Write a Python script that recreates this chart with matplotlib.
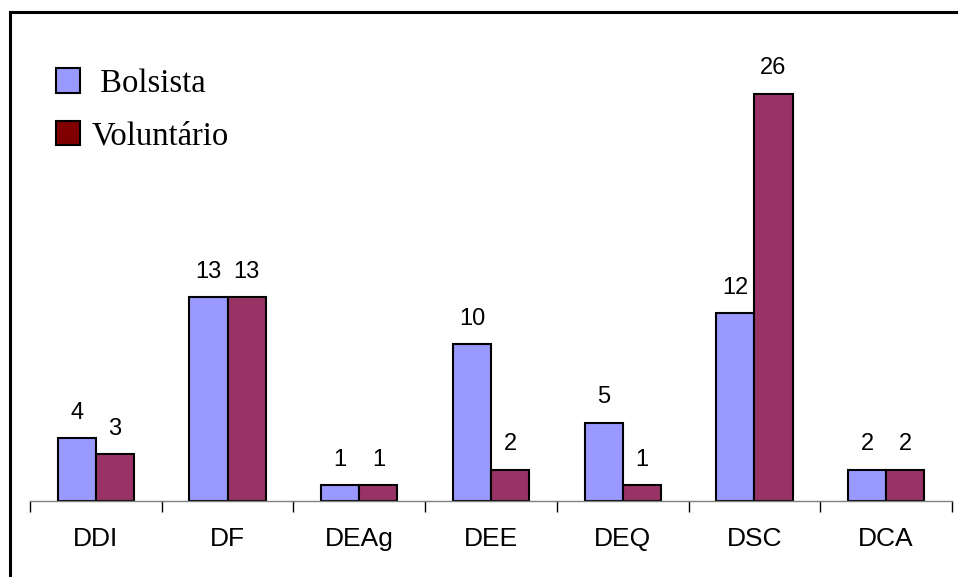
import numpy as np
import matplotlib
matplotlib.use("Agg")
import matplotlib.pyplot as plt
from matplotlib.patches import Patch
from matplotlib.lines import Line2D

# Data
departments = ["DDI", "DF", "DEAg", "DEE", "DEQ", "DSC", "DCA"]
bolsista = [4, 13, 1, 10, 5, 12, 2]
voluntario = [3, 13, 1, 2, 1, 26, 2]
series_names = ["Bolsista", "Voluntário"]

blue = "#9999FF"
plum = "#993366"
legend_red = "#800000"

plt.rcParams['font.family'] = ['Liberation Sans', 'DejaVu Sans']

W, H = 958, 577
fig = plt.figure(figsize=(W / 100, H / 100), dpi=100)
ax = fig.add_axes([30 / W, (H - 501) / H, (952 - 30) / W, (501 - 31) / H])

x = np.arange(len(departments))
width = 0.29
bars1 = ax.bar(x - width / 2, bolsista, width, color=blue,
               edgecolor="black", linewidth=1.5)
bars2 = ax.bar(x + width / 2, voluntario, width, color=plum,
               edgecolor="black", linewidth=1.5)

for bars, vals in ((bars1, bolsista), (bars2, voluntario)):
    for b, v in zip(bars, vals):
        ax.annotate(str(v), (b.get_x() + b.get_width() / 2, v),
                    xytext=(0, 14), textcoords="offset points",
                    ha="center", va="baseline", fontsize=17)

ax.set_xlim(-0.5, len(departments) - 0.5)
ax.set_ylim(0, 30)

# category names centred, tick marks on the boundaries
ax.set_xticks(x)
ax.set_xticklabels(departments, fontsize=19)
ax.set_xticks(np.arange(len(departments) + 1) - 0.5, minor=True)
ax.tick_params(axis="x", which="major", length=0, pad=19)
ax.tick_params(axis="x", which="minor", length=8, width=1, color="black")
ax.set_yticks([])
for s in ("top", "right", "left"):
    ax.spines[s].set_visible(False)
ax.spines["bottom"].set_color("#808080")
ax.spines["bottom"].set_linewidth(1)

handles = [Patch(facecolor=blue, edgecolor="black", linewidth=1.5),
           Patch(facecolor=legend_red, edgecolor="black", linewidth=1.5)]
labels = [" " + series_names[0], series_names[1]]
ax.legend(handles, labels, loc="upper left",
          bbox_to_anchor=(56 / W, 1 - 68 / H), bbox_transform=fig.transFigure,
          frameon=False, prop={"family": "Liberation Serif", "size": 23.5},
          handlelength=0.75, handleheight=0.78, handletextpad=0.35,
          labelspacing=0.68, borderpad=0, borderaxespad=0)

# outer frame (only top and left edges show)
fig.add_artist(Line2D([10 / W, 10 / W], [0, 1 - 12 / H],
                      transform=fig.transFigure, color="black", lw=2.2))
fig.add_artist(Line2D([10 / W, 1], [1 - 12 / H, 1 - 12 / H],
                      transform=fig.transFigure, color="black", lw=2.2))

fig.savefig("out.png", dpi=100)
